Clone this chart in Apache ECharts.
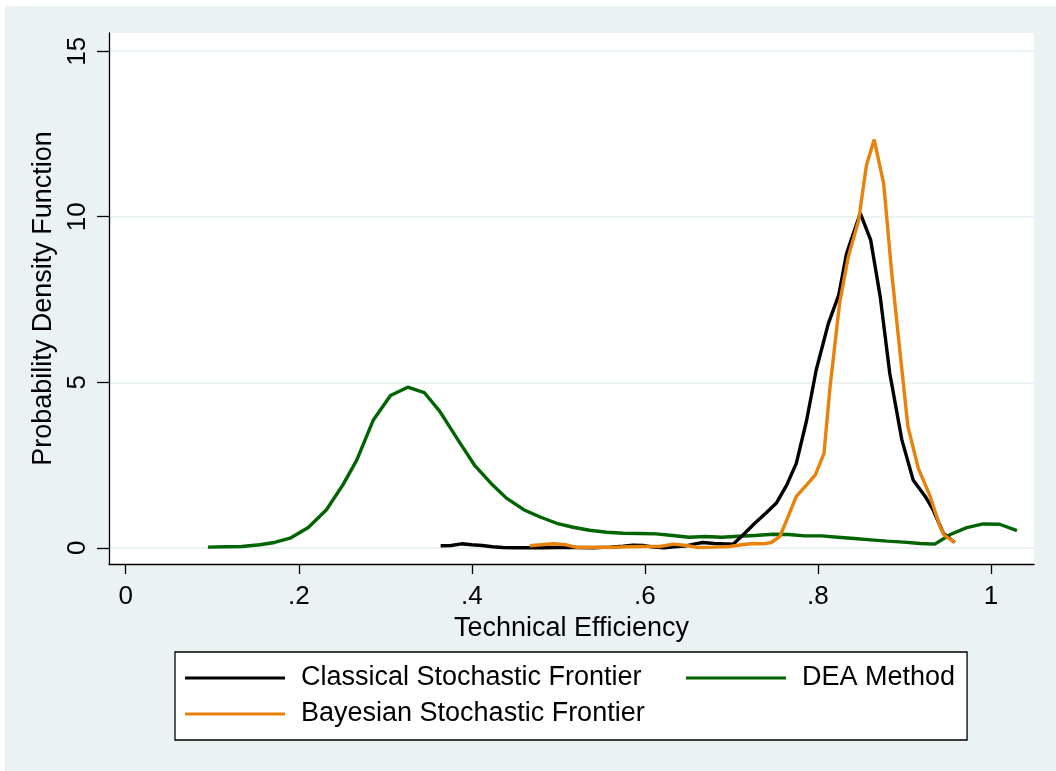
<!DOCTYPE html>
<html>
<head>
<meta charset="utf-8">
<script src="https://cdn.jsdelivr.net/npm/echarts@6/dist/echarts.min.js"></script>
<style>
  html, body { margin: 0; padding: 0; background: #ffffff; }
  #bg { position: absolute; left: 5px; top: 6px; width: 1051px; height: 765px; background: #EAF2F3; }
  #chart { position: absolute; left: 0; top: 0; width: 1056px; height: 771px; }
</style>
</head>
<body>
<div id="bg"></div>
<div id="chart"></div>
<script>
// ---- data ----
const seriesNames = ['Classical Stochastic Frontier', 'DEA Method', 'Bayesian Stochastic Frontier'];

const classicalX = [0.364,0.376,0.388,0.400,0.412,0.424,0.436,0.448,0.460,0.480,0.500,0.520,0.540,0.560,0.575,0.586,0.598,0.610,0.622,0.634,0.646,0.658,0.667,0.680,0.690,0.702,0.714,0.727,0.740,0.752,0.764,0.775,0.787,0.798,0.812,0.824,0.833,0.841,0.849,0.861,0.872,0.883,0.897,0.910,0.924,0.933,0.945,0.958];
const classicalY = [0.06,0.07,0.12,0.09,0.07,0.03,0.01,0.00,0.00,0.00,0.01,0.01,0.00,0.02,0.05,0.08,0.07,0.02,0.00,0.03,0.05,0.12,0.16,0.13,0.12,0.11,0.40,0.74,1.05,1.35,1.90,2.55,3.86,5.37,6.77,7.63,8.88,9.50,10.10,9.29,7.58,5.27,3.26,2.05,1.55,1.15,0.44,0.16];

const deaX = [0.095,0.114,0.134,0.155,0.172,0.190,0.211,0.232,0.251,0.267,0.286,0.306,0.326,0.345,0.363,0.384,0.403,0.422,0.440,0.460,0.479,0.498,0.517,0.536,0.556,0.575,0.594,0.613,0.632,0.651,0.670,0.689,0.708,0.727,0.748,0.766,0.785,0.804,0.823,0.842,0.861,0.880,0.899,0.918,0.935,0.953,0.972,0.991,1.010,1.030];
const deaY = [0.02,0.03,0.04,0.09,0.16,0.29,0.61,1.15,1.90,2.65,3.85,4.60,4.85,4.69,4.12,3.26,2.50,1.95,1.50,1.15,0.93,0.74,0.62,0.53,0.47,0.44,0.43,0.42,0.37,0.32,0.34,0.32,0.35,0.37,0.41,0.40,0.36,0.36,0.32,0.28,0.24,0.20,0.17,0.13,0.11,0.40,0.61,0.72,0.71,0.52];

const bayesX = [0.467,0.480,0.494,0.509,0.521,0.540,0.560,0.580,0.600,0.617,0.633,0.648,0.660,0.680,0.698,0.712,0.725,0.737,0.746,0.756,0.764,0.775,0.787,0.797,0.807,0.814,0.825,0.835,0.847,0.856,0.865,0.876,0.885,0.895,0.904,0.916,0.929,0.941,0.946,0.958];
const bayesY = [0.06,0.09,0.12,0.09,0.01,0.02,0.01,0.03,0.04,0.04,0.11,0.07,0.01,0.02,0.04,0.09,0.13,0.12,0.16,0.34,0.84,1.55,1.90,2.20,2.85,4.86,7.38,8.78,9.89,11.55,12.33,10.99,8.38,5.87,3.66,2.40,1.60,0.65,0.38,0.16];

const xTicks = [0, 0.2, 0.4, 0.6, 0.8, 1];
const xTickLabels = ['0', '.2', '.4', '.6', '.8', '1'];
const yTicks = [0, 5, 10, 15];
const yTickLabels = ['0', '5', '10', '15'];

const colors = ['#000000', '#006400', '#E8820A'];
const FONT = '"Liberation Sans", Arial, sans-serif';

function pairs(xs, ys) { return xs.map((x, i) => [x, ys[i]]); }

const chart = echarts.init(document.getElementById('chart'), null, { renderer: 'canvas' });

const option = {
  backgroundColor: 'transparent',
  animation: false,
  color: colors,
  grid: {
    left: 109, right: 22, top: 33, bottom: 207,
    show: true, backgroundColor: '#ffffff', borderWidth: 0
  },
  xAxis: {
    type: 'value',
    min: -0.0193, max: 1.0497,
    name: 'Technical Efficiency',
    nameLocation: 'middle',
    nameGap: 44,
    nameTextStyle: { fontFamily: FONT, fontSize: 27, color: '#000' },
    axisLine: { show: true, onZero: false, lineStyle: { color: '#000', width: 1.3 } },
    axisTick: { show: true, customValues: xTicks, length: 10, lineStyle: { color: '#000', width: 1.3 } },
    axisLabel: {
      customValues: xTicks, margin: 20, fontFamily: FONT, fontSize: 26, color: '#000',
      formatter: v => { const i = xTicks.findIndex(t => Math.abs(t - v) < 1e-9); return i >= 0 ? xTickLabels[i] : ''; }
    },
    splitLine: { show: false }
  },
  yAxis: {
    type: 'value',
    min: -0.49, max: 15.55,
    name: 'Probability Density Function',
    nameLocation: 'middle',
    nameGap: 40,
    nameRotate: 90,
    nameTextStyle: { fontFamily: FONT, fontSize: 27, color: '#000' },
    axisLine: { show: true, onZero: false, lineStyle: { color: '#000', width: 1.3 } },
    axisTick: { show: true, customValues: yTicks, length: 12, lineStyle: { color: '#000', width: 1.3 } },
    axisLabel: {
      customValues: yTicks, rotate: 90, margin: 18, fontFamily: FONT, fontSize: 26, color: '#000',
      formatter: v => { const i = yTicks.findIndex(t => Math.abs(t - v) < 1e-9); return i >= 0 ? yTickLabels[i] : ''; }
    },
    splitLine: { show: true, lineStyle: { color: '#EAF2F3', width: 2 } }
  },
  legend: {
    left: 175, top: 652,
    width: 792,
    orient: 'horizontal',
    padding: [12, 12, 12, 10],
    itemGap: 8,
    itemWidth: 100,
    itemHeight: 3,
    icon: 'rect',
    backgroundColor: '#ffffff',
    borderColor: '#000000',
    borderWidth: 1.3,
    borderRadius: 0,
    textStyle: { fontFamily: FONT, fontSize: 27, color: '#000', lineHeight: 28, padding: [0, 0, 0, 11] },
    data: [
      { name: seriesNames[0], textStyle: { width: 377 } },
      { name: seriesNames[1] },
      { name: seriesNames[2], textStyle: { width: 377 } }
    ]
  },
  series: [
    { name: seriesNames[0], type: 'line', data: pairs(classicalX, classicalY), showSymbol: false, symbol: 'none', lineStyle: { width: 3.4, color: colors[0] }, itemStyle: { color: colors[0] }, z: 4 },
    { name: seriesNames[1], type: 'line', data: pairs(deaX, deaY), showSymbol: false, symbol: 'none', lineStyle: { width: 3.4, color: colors[1] }, itemStyle: { color: colors[1] }, z: 3 },
    { name: seriesNames[2], type: 'line', data: pairs(bayesX, bayesY), showSymbol: false, symbol: 'none', lineStyle: { width: 3.4, color: colors[2] }, itemStyle: { color: colors[2] }, z: 5 }
  ]
};
chart.setOption(option);
</script>
</body>
</html>
